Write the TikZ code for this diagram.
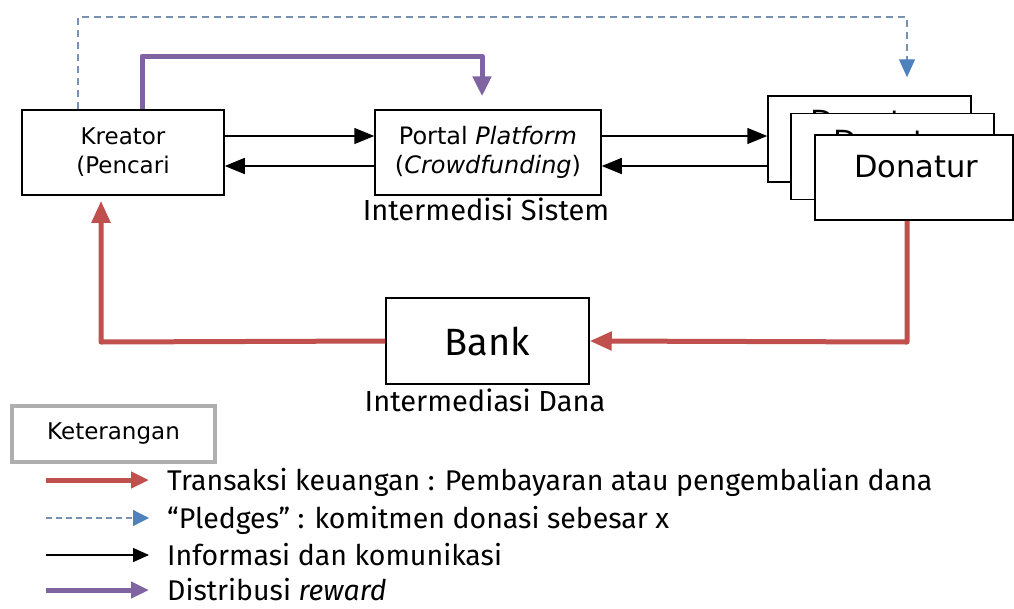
\documentclass[tikz,border=0pt]{standalone}
\usepackage{fontspec}
\setmainfont{Fira Sans}
\newfontfamily\boxfont{DejaVu Sans}
\usetikzlibrary{arrows.meta}
\definecolor{cred}{RGB}{192,80,77}
\definecolor{cpurple}{RGB}{128,100,162}
\definecolor{cblue}{RGB}{79,129,189}
\definecolor{cdash}{RGB}{120,145,175}
\definecolor{cgray}{RGB}{175,175,175}
\begin{document}
\begin{tikzpicture}[x=1pt,y=-1pt,
  box/.style={draw,line width=1.5pt,fill=white,inner sep=0pt},
  info/.style={line width=1.5pt,-{Triangle[length=20pt,width=16pt]}},
  money/.style={cred,line width=5pt,-{Triangle[length=22pt,width=18pt]}},
  reward/.style={cpurple,line width=5pt,-{Triangle[length=20pt,width=18pt]}},
  pledge/.style={cdash,line width=1.3pt,dash pattern=on 7pt off 5pt,-{Triangle[length=18pt,width=16pt,color=cblue,fill=cblue]}},
  lbl/.style={font=\fontsize{29}{32}\selectfont,inner sep=0pt},
  dtxt/.style={font=\boxfont\fontsize{30.5}{34}\selectfont,inner sep=0pt,anchor=base},
  legtxt/.style={font=\fontsize{28.5}{32}\selectfont,inner sep=0pt,anchor=base west}]
\useasboundingbox (0,0) rectangle (1014,608);
\fill[white] (0,0) rectangle (1014,608);

% boxes
\node[box,minimum width=202pt,minimum height=85pt,align=center,
  font=\boxfont\fontsize{23}{29}\selectfont] (kre) at (123,152.5) {Kreator\\(Pencari};
\node[box,minimum width=226pt,minimum height=85pt,align=center,
  font=\boxfont\fontsize{24}{29}\selectfont] (por) at (488,152.5) {Portal \textit{Platform}\\(\textit{Crowdfunding})};
\node[lbl,anchor=north] (sis) at (486,198) {Intermedisi Sistem};

\node[box,minimum width=203pt,minimum height=86pt] (d1) at (869.5,139) {};
\node[dtxt] (d1t) at (872,132) {Donatur};
\node[box,minimum width=203pt,minimum height=86pt] (d2) at (892.5,156.5) {};
\node[dtxt] (d2t) at (895,152) {Donatur};
\node[box,minimum width=198pt,minimum height=85pt] (d3) at (914,177.5) {};
\node[dtxt] (d3t) at (916,177) {Donatur};

\node[box,minimum width=203pt,minimum height=86pt,font=\fontsize{38}{42}\selectfont] (bank) at (487.5,341) {Bank};
\node[lbl,anchor=north] (dana) at (485,389) {Intermediasi Dana};

% coordinates
\coordinate (ya) at (0,136);
\coordinate (yb) at (0,166);
\coordinate (rr) at (907,342);
\coordinate (rl) at (101,342);
\coordinate (pa) at (142,56);
\coordinate (pb) at (482,56);
\coordinate (da) at (78,17);
\coordinate (db) at (907,17);

% information arrows
\draw[info] (kre.east |- ya) -- (por.west |- ya);
\draw[info] (por.west |- yb) -- (kre.east |- yb);
\draw[info] (por.east |- ya) -- (d1.west |- ya);
\draw[info] (d1.west |- yb) -- (por.east |- yb);

% money
\draw[money,line join=round] (d3.south -| rr) -- (rr) -- (bank.east);
\draw[money,line join=round,shorten >=5pt] (bank.west) -- (rl) -- (kre.south -| rl);

% reward
\draw[reward,line join=round,shorten >=13pt] (kre.north -| pa) -- (pa) -- (pb) -- (por.north -| pb);

% pledge
\draw[pledge,shorten >=18pt] (kre.north -| da) -- (da) -- (db) -- (d1.north -| db);

% legend
\node[draw=cgray,line width=4pt,minimum width=203pt,minimum height=56pt,inner sep=0pt,
  font=\boxfont\fontsize{23}{26}\selectfont] (ket) at (113.5,434) {Keterangan};
\coordinate (l1a) at (46,480); \coordinate (l1b) at (149,480);
\coordinate (l2a) at (46,518); \coordinate (l2b) at (149,518);
\coordinate (l3a) at (46,555); \coordinate (l3b) at (149,555);
\coordinate (l4a) at (46,590); \coordinate (l4b) at (149,590);
\draw[cred,line width=5pt,-{Triangle[length=18pt,width=16pt]}] (l1a) -- (l1b);
\draw[cdash,line width=1.3pt,dash pattern=on 6pt off 4pt,-{Triangle[length=16pt,width=16pt,color=cblue,fill=cblue]}] (l2a) -- (l2b);
\draw[line width=1.5pt,-{Triangle[length=16pt,width=14pt]}] (l3a) -- (l3b);
\draw[cpurple,line width=5pt,-{Triangle[length=18pt,width=16pt]}] (l4a) -- (l4b);
\node[legtxt] (t1) at (167,490) {Transaksi keuangan : Pembayaran atau pengembalian dana};
\node[legtxt] (t2) at (167,528) {“Pledges” : komitmen donasi sebesar x};
\node[legtxt] (t3) at (167,565) {Informasi dan komunikasi};
\node[legtxt] (t4) at (167,600) {Distribusi \textit{reward}};
\end{tikzpicture}
\end{document}
